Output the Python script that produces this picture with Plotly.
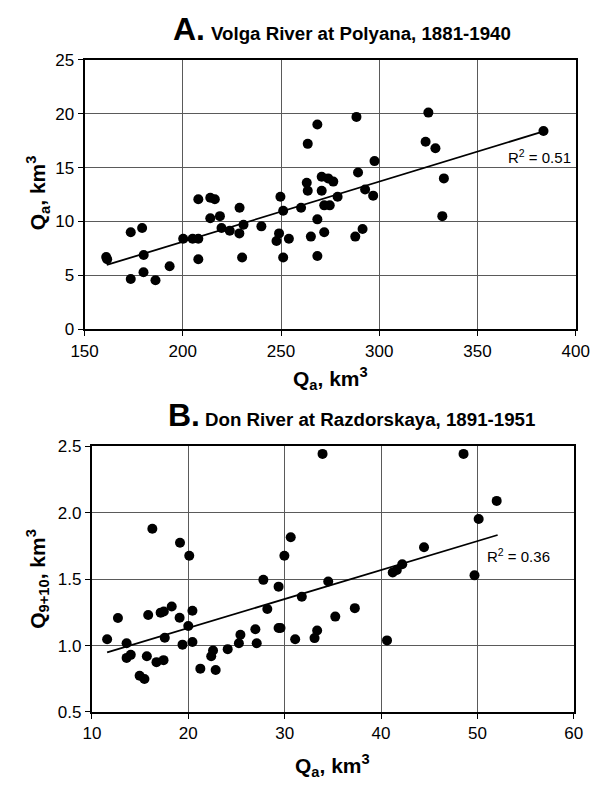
import plotly.graph_objects as go

# ---------------- Data ----------------
# Panel A: Volga River at Polyana, 1881-1940
volga_qa = [161.0, 161.5, 173.5, 179.3, 180.1, 173.5, 180.0, 186.1, 193.3,
            200.2, 205.0, 207.9, 207.9, 207.9, 214.0, 216.3, 214.0, 218.9, 219.7, 223.9,
            228.9, 228.8, 230.9, 230.2, 240.0, 247.7, 249.0, 249.7, 251.1, 251.1, 254.0,
            260.2, 263.1, 263.6, 263.6, 265.2, 268.5, 268.5, 268.5, 270.7, 270.7, 272.0, 272.0,
            274.0, 276.6, 274.8, 278.8, 288.4, 289.2, 292.8, 296.9, 297.6, 291.5, 287.8,
            323.6, 325.0, 328.6, 332.9, 332.1, 383.6]
volga_q = [6.7, 6.5, 9.0, 9.4, 6.9, 4.67, 5.3, 4.55, 5.85,
           8.4, 8.4, 8.4, 6.5, 12.06, 12.2, 12.06, 10.3, 10.5, 9.4, 9.15,
           11.27, 8.9, 9.7, 6.67, 9.55, 8.2, 8.9, 12.3, 11.0, 6.67, 8.4,
           11.27, 13.6, 17.2, 12.85, 8.6, 19.0, 10.2, 6.8, 14.15, 12.85, 11.5, 9.0,
           14.0, 13.7, 11.5, 12.3, 19.7, 14.55, 12.97, 12.4, 15.6, 9.3, 8.6,
           17.4, 20.1, 16.8, 14.0, 10.5, 18.4]
volga_trend_x = [161.3, 383.6]
volga_trend_y = [5.97, 18.36]
volga_r2 = "R<sup>2</sup> = 0.51"

# Panel B: Don River at Razdorskaya, 1891-1951
don_qa = [11.58, 12.7, 13.6, 13.6, 14.03, 14.95, 15.45, 15.7, 15.84, 16.27,
          16.7, 17.13, 17.46, 17.43, 17.56, 18.28, 19.14, 19.1, 19.4, 20.0,
          20.1, 20.43, 20.43, 21.25, 22.38, 22.57, 22.84, 24.09, 25.25, 25.41,
          26.96, 27.1, 27.79, 28.2, 29.37, 29.37, 29.57, 29.97, 30.63, 31.09,
          31.78, 33.1, 33.37, 33.93, 34.52, 35.25, 37.28, 40.62, 41.21, 41.64,
          42.2, 44.46, 48.56, 49.7, 50.13, 52.0]
don_q = [1.047, 1.208, 1.017, 0.907, 0.93, 0.772, 0.748, 0.92, 1.23, 1.88,
         0.875, 1.248, 1.257, 0.89, 1.059, 1.294, 1.775, 1.21, 1.007, 1.147,
         1.676, 1.262, 1.027, 0.826, 0.919, 0.963, 0.816, 0.973, 1.017, 1.081,
         1.123, 1.017, 1.495, 1.275, 1.444, 1.132, 1.132, 1.676, 1.816, 1.047,
         1.368, 1.056, 1.113, 2.444, 1.483, 1.218, 1.282, 1.039, 1.551, 1.569,
         1.613, 1.74, 2.444, 1.529, 1.953, 2.09]
don_trend_x = [11.58, 52.1]
don_trend_y = [0.949, 1.833]
don_r2 = "R<sup>2</sup> = 0.36"

# ---------------- Figure ----------------
W, H = 604, 787
def px(x):
    return x / W
def py(y):
    return 1 - y / H

FONT = "Liberation Sans, Arial, Helvetica, sans-serif"

fig = go.Figure()
fig.add_trace(go.Scatter(x=volga_qa, y=volga_q, mode="markers",
                         marker=dict(color="black", size=10),
                         xaxis="x", yaxis="y", showlegend=False))
fig.add_trace(go.Scatter(x=volga_trend_x, y=volga_trend_y, mode="lines",
                         line=dict(color="black", width=1.8),
                         xaxis="x", yaxis="y", showlegend=False))
fig.add_trace(go.Scatter(x=don_qa, y=don_q, mode="markers",
                         marker=dict(color="black", size=10),
                         xaxis="x2", yaxis="y2", showlegend=False))
fig.add_trace(go.Scatter(x=don_trend_x, y=don_trend_y, mode="lines",
                         line=dict(color="black", width=1.8),
                         xaxis="x2", yaxis="y2", showlegend=False))

common = dict(showgrid=True, gridcolor="#5a5a5a", gridwidth=1,
              showline=True, linecolor="black", linewidth=2, mirror=True,
              ticks="outside", ticklen=5, tickwidth=1, tickcolor="black",
              tickfont=dict(family=FONT, size=17, color="black"),
              zeroline=False, fixedrange=True)

fig.update_layout(
    width=W, height=H,
    margin=dict(l=0, r=0, t=0, b=0),
    paper_bgcolor="white", plot_bgcolor="white",
    xaxis=dict(domain=[px(74), px(589)], range=[150, 400], dtick=50, anchor="y", **common),
    yaxis=dict(domain=[py(328.3), py(52)], range=[0, 25], dtick=5, anchor="x", **common),
    xaxis2=dict(domain=[px(81.7), px(587)], range=[10, 60], dtick=10, anchor="y2", **common),
    yaxis2=dict(domain=[py(720.3), py(448.3)], range=[0.5, 2.5], dtick=0.5,
                tickformat=".1f", anchor="x2", **common),
)

ann = []
def text(x, y, s, size, bold=True, xanchor="center", yanchor="middle", angle=0, family=FONT):
    ann.append(dict(x=px(x), y=py(y), xref="paper", yref="paper", text=(f"<b>{s}</b>" if bold else s),
                    showarrow=False, xanchor=xanchor, yanchor=yanchor, textangle=angle,
                    font=dict(family=family, size=size, color="black")))

# Titles
text(184, 20, "A.", 32)
text(204, 25, "Volga River at Polyana, 1881-1940", 18.7, xanchor="left")
text(178.5, 416, "B.", 32)
text(198, 421, "Don River at Razdorskaya, 1891-1951", 18.7, xanchor="left")

# Axis titles
text(331.5, 379, "Q<sub>a</sub>, km<sup>3</sup>", 21)
text(334, 775, "Q<sub>a</sub>, km<sup>3</sup>", 21)
text(25, 188, "Q<sub>a</sub>, km<sup>3</sup>", 21, angle=-90)
text(25, 584, "Q<sub>9+10</sub>, km<sup>3</sup>", 21, angle=-90)

# R^2 labels
text(586, 151, volga_r2, 15, bold=False, xanchor="right")
text(564, 560, don_r2, 15, bold=False, xanchor="right")

fig.update_layout(annotations=ann)
fig.write_html("out.html")
